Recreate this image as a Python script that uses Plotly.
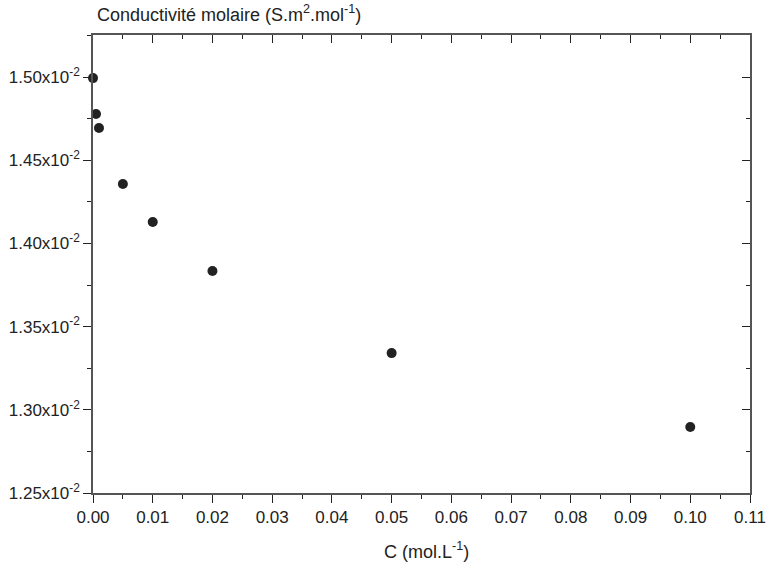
import plotly.graph_objects as go

conc = [0.0, 0.0005, 0.001, 0.005, 0.01, 0.02, 0.05, 0.1]
cond = [0.014994, 0.014778, 0.014694, 0.014357, 0.014129, 0.013834, 0.013341, 0.012897]

x_ticks = [0.0, 0.01, 0.02, 0.03, 0.04, 0.05, 0.06, 0.07, 0.08, 0.09, 0.10, 0.11]
x_ticktext = ["0.00", "0.01", "0.02", "0.03", "0.04", "0.05", "0.06", "0.07", "0.08", "0.09", "0.10", "0.11"]
y_ticks = [0.0125, 0.0130, 0.0135, 0.0140, 0.0145, 0.0150]
y_ticktext = ["1.25x10<sup>-2</sup>", "1.30x10<sup>-2</sup>", "1.35x10<sup>-2</sup>",
              "1.40x10<sup>-2</sup>", "1.45x10<sup>-2</sup>", "1.50x10<sup>-2</sup>"]

xr = [0.0, 0.11]
yr = [0.0125, 0.015253]
axcol = "#555555"
tickcol = "#222222"
font = dict(family="Liberation Sans, Arial, sans-serif", size=17, color="#222222")

W, H = 766, 568
L, R, T, B = 93, 16, 35, 75
ph = H - T - B

fig = go.Figure()
fig.add_trace(go.Scatter(x=conc, y=cond, mode="markers",
                         marker=dict(size=10, color="#222222"), cliponaxis=False,
                         showlegend=False))
fig.add_trace(go.Scatter(x=[None], y=[None], xaxis="x2", yaxis="y2",
                         mode="markers", showlegend=False, hoverinfo="skip"))

common = dict(showgrid=False, zeroline=False, showline=True, linecolor=axcol,
              linewidth=1.5, tickcolor=tickcol, tickwidth=1.2, automargin=False)

fig.update_layout(
    width=W, height=H,
    margin=dict(l=L, r=R, t=T, b=B),
    paper_bgcolor="white", plot_bgcolor="white",
    font=font,
    xaxis=dict(range=xr, tickvals=x_ticks, ticktext=x_ticktext, ticks="outside",
               ticklen=8, tickfont=dict(size=17),
               minor=dict(dtick=0.005, ticks="outside", ticklen=4,
                          tickcolor=tickcol, tickwidth=1.2),
               **common),
    yaxis=dict(range=yr, tickvals=y_ticks, ticktext=y_ticktext, ticks="outside",
               ticklen=8, tickfont=dict(size=17),
               minor=dict(dtick=0.00025, tick0=0.0125, ticks="outside",
                          ticklen=4, tickcolor=tickcol, tickwidth=1.2),
               **common),
    xaxis2=dict(range=xr, overlaying="x", side="top", anchor="y2",
                tickvals=x_ticks, showticklabels=False, ticks="inside", ticklen=8,
                minor=dict(dtick=0.005, ticks="inside", ticklen=4,
                           tickcolor=tickcol, tickwidth=1.2),
                **common),
    yaxis2=dict(range=yr, overlaying="y", side="right", anchor="x2",
                tickvals=y_ticks, showticklabels=False, ticks="inside", ticklen=8,
                minor=dict(dtick=0.00025, tick0=0.0125, ticks="inside", ticklen=4,
                           tickcolor=tickcol, tickwidth=1.2),
                **common),
    annotations=[
        dict(text="Conductivité molaire (S.m<sup>2</sup>.mol<sup>-1</sup>)",
             xref="paper", yref="paper", x=0.003, y=1.0 + (T - 14) / ph,
             xanchor="left", yanchor="middle", showarrow=False,
             font=dict(size=18)),
        dict(text="C (mol.L<sup>-1</sup>)", xref="paper", yref="paper",
             x=(426 - L) / 657.0, y=-(550 - (H - B)) / ph, xanchor="center",
             yanchor="middle", showarrow=False, font=dict(size=18)),
    ],
)

fig.write_html("out.html", config={"displayModeBar": False},
               post_script="document.body.style.margin='0';document.body.style.padding='0';")
